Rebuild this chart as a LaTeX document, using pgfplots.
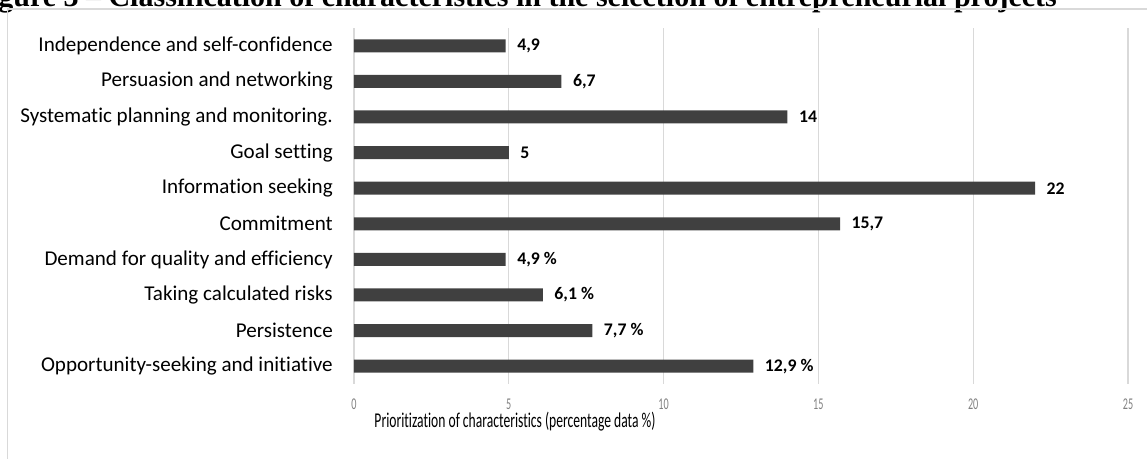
\documentclass[border=0pt]{standalone}
\usepackage{pgfplots}
\pgfplotsset{compat=1.18}
\usepackage{graphicx}
\usepackage{fontspec}
\setmainfont{Carlito}[Ligatures={NoCommon}]
\newfontfamily\titlefont{Liberation Serif}
\definecolor{barc}{HTML}{404040}
\definecolor{gridc}{HTML}{D9D9D9}
\definecolor{tickc}{HTML}{808080}
\begin{document}
\begin{tikzpicture}
\useasboundingbox (0,0) rectangle (860.25pt,344.25pt);
\clip (0,0) rectangle (860.25pt,344.25pt);
\node[anchor=base east, inner sep=0pt, font=\titlefont\bfseries\fontsize{22.5}{25}\selectfont] at (792.75pt,339.6pt) {Figure 3 – Classification of characteristics in the selection of entrepreneurial projects};
\draw[gridc, line width=1.1pt] (5.625pt,0) -- (5.625pt,337.5pt) -- (870pt,337.5pt);
\begin{axis}[at={(265.5pt,56.25pt)}, anchor=south west, scale only axis,
  width=580.5pt, height=267pt,
  xbar, xmin=0, xmax=25, ymin=-0.5, ymax=9.5, bar width=9.75pt,
  axis line style={draw=none},
  xmajorgrids, grid style={gridc, line width=0.9pt},
  major tick length=0pt,
  xtick={0,5,...,25}, ytick={0,...,9},
  yticklabels={Opportunity-seeking and initiative, Persistence, Taking calculated risks, Demand for quality and efficiency, Commitment, Information seeking, Goal setting, Systematic planning and monitoring., Persuasion and networking, Independence and self-confidence},
  yticklabel style={anchor=east, inner sep=0pt, xshift=-15.75pt, font=\fontsize{15.8}{18}\selectfont, text=black},
  xticklabel={\scalebox{0.62}[1]{\pgfmathprintnumber{\tick}}},
  xticklabel style={anchor=center, inner sep=0pt, yshift=-15pt, font=\fontsize{12.3}{14}\selectfont, text=tickc},
  /pgf/number format/assume math mode=true,
  point meta=explicit symbolic,
  nodes near coords={\pgfplotspointmeta},
  nodes near coords style={font=\bfseries\fontsize{13.3}{15}\selectfont, anchor=west, inner sep=0pt, xshift=8.5pt, text=black},
]
\addplot[fill=barc, draw=none] coordinates {
 (12.9,0) [12,9 \%]
 (7.7,1) [7,7 \%]
 (6.1,2) [6,1 \%]
 (4.9,3) [4,9 \%]
 (15.7,4) [15,7]
 (22,5) [22]
 (5,6) [5]
 (14,7) [14]
 (6.7,8) [6,7]
 (4.9,9) [4,9]
};
\end{axis}
\node[anchor=center, inner sep=0pt, font=\fontsize{15.8}{18}\selectfont] at (386.25pt,27.75pt) {\scalebox{0.645}[1]{Prioritization of characteristics (percentage data \%)}};
\end{tikzpicture}
\end{document}
